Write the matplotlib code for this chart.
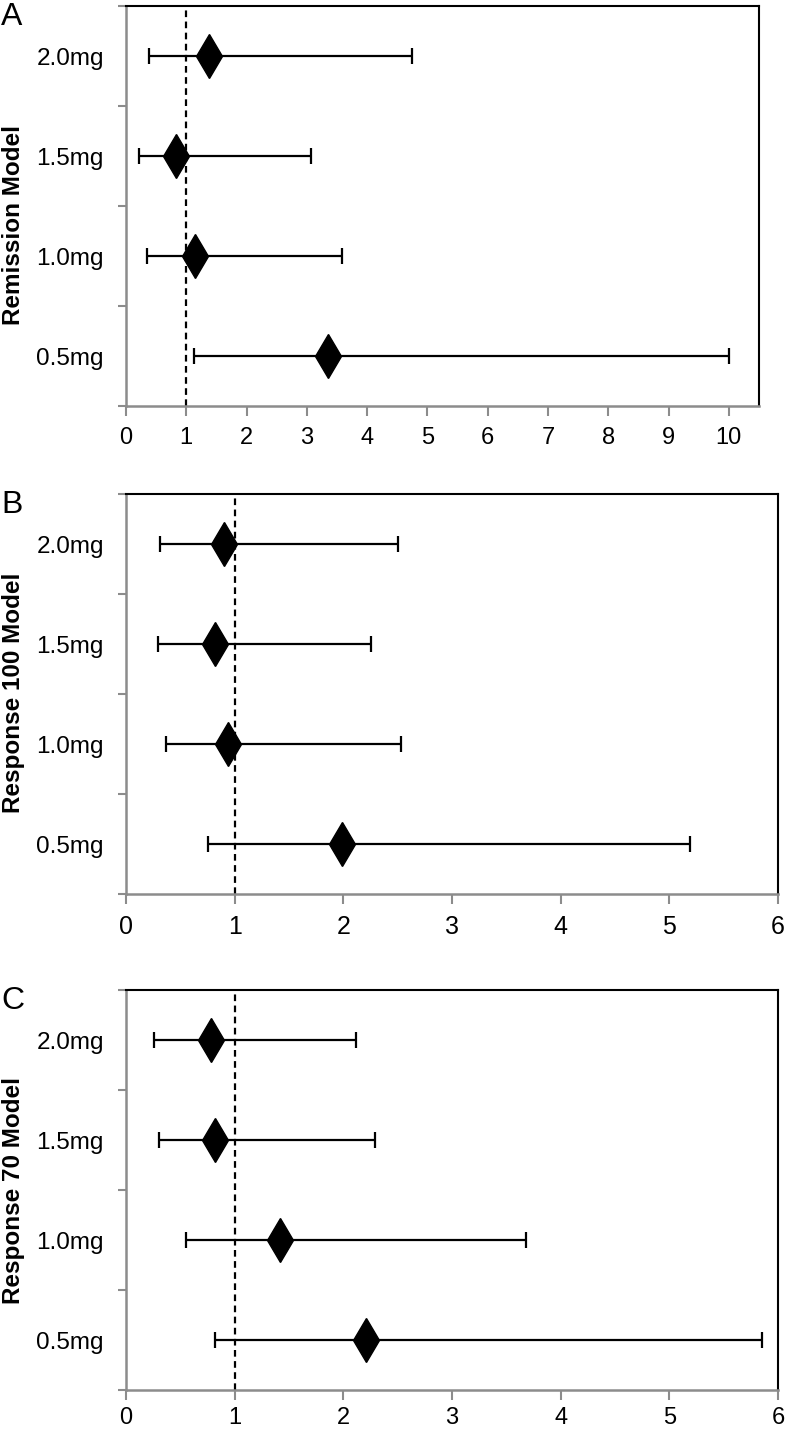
import numpy as np
import matplotlib
matplotlib.use("Agg")
import matplotlib.pyplot as plt

doses = ["0.5mg", "1.0mg", "1.5mg", "2.0mg"]

rem_est = [3.35, 1.15, 0.83, 1.38]
rem_lo = [1.12, 0.35, 0.22, 0.38]
rem_hi = [10.0, 3.58, 3.07, 4.74]

r100_est = [1.99, 0.94, 0.82, 0.90]
r100_lo = [0.75, 0.37, 0.29, 0.31]
r100_hi = [5.19, 2.53, 2.25, 2.50]

r70_est = [2.21, 1.42, 0.82, 0.78]
r70_lo = [0.82, 0.55, 0.30, 0.26]
r70_hi = [5.85, 3.68, 2.29, 2.12]

W, H = 788, 1429
fig = plt.figure(figsize=(W / 100, H / 100), dpi=100)

REG = ["Liberation Sans", "DejaVu Sans"]
GRAY = "#8c8c8c"


def box(l, t, r, b):
    return [l / W, 1 - b / H, (r - l) / W, (b - t) / H]


def panel(rect, est, lo, hi, xmax, xticks, letter, ylab, ylab_y, xsize, xpad):
    ax = fig.add_axes(box(*rect))
    est = np.array(est)
    lo = np.array(lo)
    hi = np.array(hi)
    y = np.arange(len(doses)) + 0.5
    ax.axvline(1, color="black", lw=1.6, ls=(0, (3, 2)), zorder=1)
    ax.errorbar(est, y, xerr=[est - lo, hi - est], fmt="none", ecolor="black",
                elinewidth=1.6, capsize=6, capthick=1.6, zorder=2)
    ax.plot(est, y, "d", color="black", markersize=22, zorder=3)
    ax.set_xlim(0, xmax)
    ax.set_ylim(0, len(doses))
    ax.set_xticks(xticks)
    ax.set_xticklabels([str(v) for v in xticks], family=REG, fontsize=xsize)
    ax.set_yticks(np.arange(len(doses) + 1))
    ax.set_yticklabels([])
    ax.set_yticks(y, minor=True)
    ax.set_yticklabels(doses, minor=True, family=REG, fontsize=17.5)
    ax.tick_params(axis="y", which="minor", length=0, pad=16)
    ax.tick_params(axis="y", which="major", length=6, width=1.5, color=GRAY)
    ax.tick_params(axis="x", length=7, width=1.5, color=GRAY, pad=xpad)
    for s in ["left", "bottom"]:
        ax.spines[s].set_color(GRAY)
        ax.spines[s].set_linewidth(1.8)
    for s in ["top", "right"]:
        ax.spines[s].set_color("black")
        ax.spines[s].set_linewidth(1.5)
    l, t, r, b = rect
    fig.text(1 / W, 1 - (t - 4) / H, letter, fontsize=23, family=REG, va="top", ha="left")
    fig.text(14 / W, 1 - ylab_y / H, ylab, rotation=90, fontsize=17.5, fontweight="bold",
             family=REG, va="center", ha="center")
    return ax


panel((126, 6, 759, 406), rem_est, rem_lo, rem_hi, 10.5, list(range(11)), "A",
      "Remission Model", 225, 17, 8)
panel((126, 494, 778, 894), r100_est, r100_lo, r100_hi, 6, list(range(7)), "B",
      "Response 100 Model", 693, 18, 8)
panel((126, 990, 778, 1390), r70_est, r70_lo, r70_hi, 6, list(range(7)), "C",
      "Response 70 Model", 1191, 17, 5)

fig.savefig("out.png", dpi=100)
